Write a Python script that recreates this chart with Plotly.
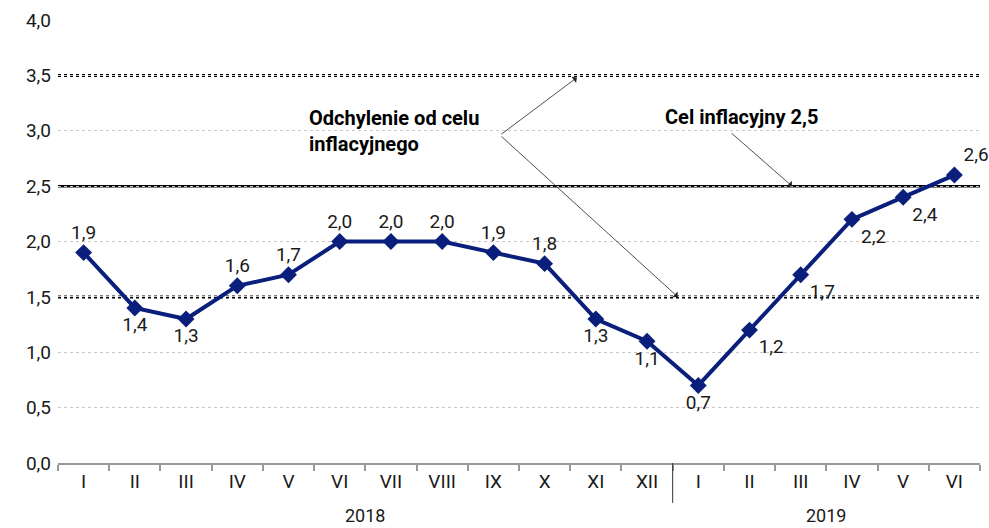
import plotly.graph_objects as go

months = ["I", "II", "III", "IV", "V", "VI", "VII", "VIII", "IX", "X", "XI", "XII",
          "I", "II", "III", "IV", "V", "VI"]
values = [1.9, 1.4, 1.3, 1.6, 1.7, 2.0, 2.0, 2.0, 1.9, 1.8, 1.3, 1.1,
          0.7, 1.2, 1.7, 2.2, 2.4, 2.6]
label_pos = ["top center", "bottom center", "bottom center", "top center", "top center",
             "top center", "top center", "top center", "top center", "top center",
             "bottom center", "bottom center", "bottom center", "bottom right",
             "bottom right", "bottom right", "bottom right", "top right"]
years = ["2018", "2019"]
year_centers = [5.5, 14.5]
target = 2.5
band = [1.5, 3.5]

x = list(range(len(months)))
labels = [f"{v:.1f}".replace(".", ",") for v in values]

FONT = "Roboto"
NAVY = "#0a1f7c"
FS = 19
FB = 20

fig = go.Figure()
fig.add_trace(go.Scatter(
    x=x, y=values, mode="lines+markers+text",
    line=dict(color=NAVY, width=4),
    marker=dict(symbol="diamond", size=13, color=NAVY),
    text=labels, textposition=label_pos,
    textfont=dict(size=FS, color="#1a1a1a", family=FONT),
    cliponaxis=False, hoverinfo="skip", showlegend=False,
))

shapes = []
shapes.append(dict(type="line", xref="paper", yref="y", x0=0, x1=1, y0=target, y1=target,
                   line=dict(color="black", width=2.5), layer="below"))
for b in band:
    shapes.append(dict(type="line", xref="paper", yref="y", x0=0, x1=1, y0=b, y1=b,
                       line=dict(color="black", width=3, dash="dot"), layer="below"))
shapes.append(dict(type="line", xref="x", yref="paper", x0=11.5, x1=11.5, y0=0, y1=-0.09,
                   line=dict(color="#333333", width=1)))

annotations = []
for yr, c in zip(years, year_centers):
    annotations.append(dict(x=c, y=-0.118, xref="x", yref="paper", text=yr, showarrow=False,
                            font=dict(size=18, color="#1a1a1a", family=FONT), yanchor="middle"))

annotations.append(dict(x=4.36, y=3.0, xref="x", yref="y", xanchor="left", yanchor="middle",
                        align="left", showarrow=False,
                        text="<b>Odchylenie od celu<br>inflacyjnego</b>",
                        font=dict(size=FB, color="black", family=FONT)))
annotations.append(dict(x=11.31, y=3.12, xref="x", yref="y", xanchor="left", yanchor="middle",
                        showarrow=False, text="<b>Cel inflacyjny 2,5</b>",
                        font=dict(size=FB, color="black", family=FONT)))
arrow_style = dict(showarrow=True, arrowhead=1, arrowsize=1.6, arrowwidth=0.8,
                   arrowcolor="#222222", text="", xref="x", yref="y", axref="x", ayref="y",
                   standoff=0, startstandoff=0)
annotations.append(dict(x=9.63, y=3.48, ax=8.13, ay=2.96, **arrow_style))
annotations.append(dict(x=11.6, y=1.5, ax=8.13, ay=2.96, **arrow_style))
annotations.append(dict(x=13.83, y=2.5, ax=12.62, ay=2.99, **arrow_style))

fig.update_layout(
    width=989, height=528,
    margin=dict(l=58, r=9, t=20, b=65),
    paper_bgcolor="white", plot_bgcolor="white",
    separators=", ",
    font=dict(family=FONT, size=FS, color="#1a1a1a"),
    shapes=shapes, annotations=annotations,
    xaxis=dict(range=[-0.5, 17.5], tickvals=x, ticktext=months, ticks="", showgrid=False,
               showline=True, linecolor="#999999", linewidth=1.5, zeroline=False,
               tickfont=dict(size=FS, family=FONT, color="#1a1a1a"),
               minor=dict(tick0=0.5, dtick=1, ticks="outside", ticklen=6,
                          tickcolor="#999999", tickwidth=1.5, showgrid=False)),
    yaxis=dict(range=[0, 4], dtick=0.5, tickformat=".1f", showgrid=True,
               gridcolor="#c8c8c8", griddash="dot", gridwidth=1, zeroline=False,
               showline=False, ticks="", ticklabelstandoff=6,
               tickfont=dict(size=FS, family=FONT, color="#1a1a1a")),
)

fig.write_html("out.html", config={"displayModeBar": False},
               post_script="document.body.style.margin='0';document.body.style.overflow='hidden';")
